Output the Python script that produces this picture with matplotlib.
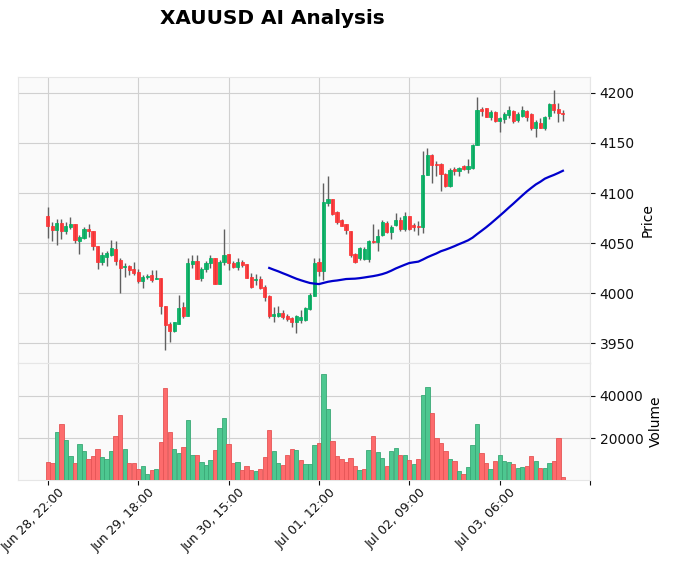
import numpy as np
import pandas as pd
import matplotlib
matplotlib.use('Agg')
import matplotlib.pyplot as plt
import matplotlib.transforms as mtransforms

# Hourly OHLCV (115 bars)
opens = [4076.7, 4067.3, 4062.7, 4070.0, 4061.7, 4066.3, 4069.0, 4051.7, 4055.0, 4063.7,
         4062.3, 4047.3, 4031.7, 4036.3, 4038.3, 4044.3, 4033.3, 4026.3, 4027.7, 4024.3,
         4021.0, 4012.3, 4016.0, 4018.3, 4014.5, 4015.5, 3987.5, 3969.0, 3962.3, 3969.0,
         3986.3, 3977.3, 4029.3, 4032.7, 4015.0, 4024.3, 4030.0, 4035.0, 4009.3, 4031.0,
         4039.0, 4030.0, 4026.0, 4031.7, 4029.3, 4016.0, 4013.0, 4014.0, 4006.7, 3997.7,
         3977.3, 3977.7, 3980.0, 3977.7, 3975.0, 3971.7, 3973.3, 3973.3, 3984.0, 3997.7,
         4031.0, 4022.7, 4090.0, 4094.3, 4081.0, 4073.3, 4069.0, 4062.3, 4039.5, 4035.0,
         4034.3, 4034.3, 4052.3, 4051.0, 4057.7, 4070.0, 4061.0, 4067.7, 4073.3, 4064.3,
         4076.7, 4067.7, 4067.3, 4065.7, 4118.3, 4138.3, 4129.3, 4129.0, 4119.3, 4106.7,
         4124.0, 4122.3, 4127.0, 4123.7, 4125.0, 4147.7, 4183.7, 4184.3, 4176.0, 4180.3,
         4171.7, 4173.3, 4177.7, 4182.0, 4172.7, 4177.0, 4181.7, 4178.3, 4164.3, 4170.0,
         4165.0, 4177.0, 4188.7, 4183.7, 4180.0]
highs = [4085.7, 4070.7, 4074.3, 4074.3, 4070.7, 4075.7, 4069.5, 4058.3, 4066.0, 4069.0,
         4062.5, 4047.5, 4041.0, 4042.3, 4052.7, 4051.7, 4035.7, 4030.0, 4028.3, 4031.7,
         4024.3, 4018.3, 4019.0, 4023.0, 4023.0, 4015.7, 3987.7, 3971.0, 3971.0, 3998.3,
         3991.0, 4035.0, 4038.3, 4037.7, 4026.0, 4032.7, 4037.7, 4035.5, 4033.0, 4064.0,
         4039.3, 4032.3, 4035.7, 4033.3, 4029.5, 4020.0, 4019.3, 4017.3, 4008.3, 3997.9,
         3986.7, 3987.3, 3983.3, 3979.3, 3976.7, 3978.3, 3983.3, 3986.7, 4000.0, 4035.7,
         4035.7, 4110.0, 4116.7, 4094.5, 4082.0, 4074.0, 4069.5, 4062.5, 4040.0, 4045.7,
         4045.7, 4053.0, 4069.0, 4064.0, 4073.3, 4072.3, 4068.3, 4080.0, 4075.7, 4081.0,
         4077.0, 4070.0, 4072.3, 4141.7, 4145.0, 4138.5, 4131.7, 4130.0, 4119.5, 4125.0,
         4125.7, 4126.0, 4127.7, 4134.3, 4149.3, 4196.0, 4186.0, 4184.5, 4182.7, 4181.7,
         4176.0, 4181.0, 4186.7, 4182.7, 4181.0, 4186.7, 4182.7, 4179.3, 4172.7, 4174.3,
         4177.0, 4189.3, 4202.7, 4189.3, 4182.7]
lows = [4055.0, 4052.3, 4048.3, 4054.0, 4059.0, 4064.3, 4050.0, 4039.0, 4054.0, 4055.7,
        4043.3, 4024.0, 4028.3, 4027.3, 4037.3, 4028.3, 4000.0, 4016.7, 4018.3, 4018.3,
        4010.7, 4005.0, 4014.0, 4011.0, 4014.0, 3979.5, 3943.5, 3951.7, 3961.7, 3969.0,
        3975.0, 3977.3, 4025.0, 4014.3, 4012.7, 4021.7, 4025.0, 4009.3, 4009.0, 4028.0,
        4023.3, 4025.0, 4023.3, 4026.7, 4015.0, 4005.0, 4008.3, 4004.5, 3992.7, 3975.0,
        3971.0, 3976.0, 3974.0, 3972.3, 3966.7, 3960.0, 3970.0, 3972.7, 3983.3, 3997.7,
        4017.3, 4013.3, 4086.7, 4078.0, 4069.3, 4067.0, 4059.3, 4036.0, 4030.0, 4033.3,
        4033.3, 4031.0, 4050.0, 4041.7, 4057.3, 4060.0, 4054.0, 4066.7, 4061.7, 4061.7,
        4063.3, 4061.7, 4058.3, 4060.0, 4117.7, 4110.0, 4116.7, 4101.7, 4106.0, 4106.0,
        4118.3, 4117.0, 4122.7, 4120.3, 4123.7, 4147.7, 4177.0, 4176.0, 4172.7, 4170.3,
        4161.0, 4169.3, 4174.3, 4169.3, 4170.3, 4176.0, 4171.7, 4162.7, 4156.0, 4164.3,
        4162.7, 4173.7, 4179.3, 4171.0, 4171.7]
closes = [4066.7, 4062.7, 4070.0, 4061.7, 4066.7, 4069.0, 4052.7, 4056.0, 4064.0, 4061.7,
          4046.7, 4031.7, 4037.7, 4040.0, 4044.7, 4032.3, 4025.7, 4027.7, 4023.3, 4020.7,
          4012.3, 4016.3, 4017.0, 4013.3, 4015.5, 3987.5, 3968.7, 3962.3, 3971.0, 3985.7,
          3977.3, 4030.0, 4032.7, 4014.3, 4024.3, 4030.7, 4035.0, 4009.3, 4031.0, 4038.3,
          4030.0, 4026.0, 4031.7, 4028.3, 4015.7, 4006.0, 4014.3, 4005.0, 3996.0, 3977.7,
          3979.0, 3980.7, 3976.7, 3974.0, 3971.7, 3977.3, 3976.7, 3985.0, 3998.3, 4030.7,
          4022.3, 4090.7, 4094.3, 4079.0, 4070.7, 4067.3, 4062.7, 4038.3, 4031.7, 4045.0,
          4044.3, 4052.3, 4050.7, 4057.3, 4070.7, 4061.0, 4066.0, 4073.3, 4064.3, 4077.3,
          4064.3, 4066.3, 4065.7, 4118.3, 4138.3, 4128.3, 4128.0, 4119.3, 4106.7, 4123.3,
          4122.3, 4125.0, 4123.7, 4127.0, 4148.3, 4182.7, 4181.7, 4176.0, 4180.3, 4171.7,
          4174.3, 4178.3, 4182.7, 4171.7, 4178.3, 4182.7, 4176.0, 4164.3, 4170.3, 4165.0,
          4176.0, 4188.7, 4182.7, 4179.3, 4179.0]
volumes = [9120, 8640, 23040, 26880, 19200, 12000, 8640, 17280, 13920, 10560,
           12000, 14880, 11520, 10560, 13920, 21120, 31200, 14880, 8640, 8640,
           5760, 7200, 3360, 5280, 5760, 18240, 43680, 23040, 14880, 12960,
           15840, 28800, 12480, 12480, 9120, 7680, 10080, 14400, 24960, 29760,
           17280, 8640, 9120, 5280, 7200, 5280, 4800, 5760, 11520, 24000,
           13920, 8640, 7680, 12480, 14880, 14400, 10080, 8160, 8160, 16800,
           17760, 50400, 34080, 18720, 12000, 10560, 9120, 11040, 7200, 5280,
           5760, 14400, 21120, 13440, 11040, 7200, 13920, 15360, 12480, 12480,
           10080, 8160, 10400, 40320, 44000, 32000, 20000, 18080, 13920, 10560,
           9600, 4800, 3200, 6720, 16800, 26880, 12960, 8320, 5600, 9600,
           12480, 9280, 8800, 8000, 6080, 6400, 7200, 12000, 9600, 6080,
           5920, 8640, 9600, 20160, 1760]

tick_pos = [0, 20, 40, 60, 80, 100, 120]
tick_labels = ['Jun 28, 22:00', 'Jun 29, 18:00', 'Jun 30, 15:00', 'Jul 01, 12:00',
               'Jul 02, 09:00', 'Jul 03, 06:00', '']

df = pd.DataFrame({'Open': opens, 'High': highs, 'Low': lows, 'Close': closes, 'Volume': volumes})
x = np.arange(len(df))
mav = df['Close'].rolling(50).mean()

up_c, dn_c = '#00b060', '#fe3032'
vup_c, vdn_c = '#4dc790', '#fd6b6c'
wick_c = '#606060'
face = '#fafafa'
grid_c = '#d0d0d0'

fig = plt.figure(figsize=(6.75, 5.74), dpi=100)
ax = fig.add_axes([0.0267, 0.3676, 0.8474, 0.4983])
axv = fig.add_axes([0.0267, 0.1638, 0.8474, 0.2038], sharex=ax)

for a in (ax, axv):
    a.set_facecolor(face)
    a.grid(True, color=grid_c, linestyle='-', linewidth=0.8)
    a.set_axisbelow(True)
    for s in a.spines.values():
        s.set_color('#e6e6e6')
    a.yaxis.tick_right()
    a.yaxis.set_label_position('right')
    a.tick_params(colors='#101010', labelsize=10)

# candles
is_up = df['Close'] >= df['Open']
colors = np.where(is_up, up_c, dn_c)
ax.vlines(x, df['Low'], df['High'], color=wick_c, linewidth=1, zorder=2)
body_lo = np.minimum(df['Open'], df['Close'])
body_h = np.maximum(np.abs(df['Close'] - df['Open']), 0.6)
ax.bar(x, body_h, bottom=body_lo, width=0.7, color=colors, edgecolor=colors,
       linewidth=0.6, alpha=0.9, zorder=3)

ax.plot(x, mav, color='#0000cc', linewidth=1.6, zorder=4)

rng = df['High'].max() - df['Low'].min()
ax.set_ylim(df['Low'].min() - 0.05 * rng, df['High'].max() + 0.05 * rng)
ax.set_yticks([3950, 4000, 4050, 4100, 4150, 4200])
ax.set_ylabel('Price', fontsize=10)
plt.setp(ax.get_xticklabels(), visible=False)
ax.tick_params(axis='x', length=0)

# volume (colour by close vs previous close)
vol_up = df['Close'].diff().fillna(df['Close'] - df['Open']) >= 0
vcolors = np.where(vol_up, vup_c, vdn_c)
vedges = np.where(vol_up, '#3aa876', '#e55555')
axv.bar(x, df['Volume'], width=0.95, color=vcolors, edgecolor=vedges, linewidth=0.6, zorder=3)
axv.set_ylim(0.3 * df['Volume'].min(), 1.1 * df['Volume'].max())
axv.set_yticks([20000, 40000])
axv.set_ylabel('Volume', fontsize=10)

axv.set_xlim(-6.6, 120.0)
axv.set_xticks(tick_pos)
axv.set_xticklabels(tick_labels, rotation=45, ha='right', va='top',
                    rotation_mode='anchor', fontsize=9)
# nudge the rotated labels right and up, as in the reference
shift = mtransforms.ScaledTranslation(0.10, 0.04, fig.dpi_scale_trans)
for lbl in axv.get_xticklabels():
    lbl.set_transform(lbl.get_transform() + shift)

fig.text(0.403, 0.968, 'XAUUSD AI Analysis', ha='center', va='center',
         fontsize=14.4, fontweight='bold')

fig.savefig('out.png', dpi=100)
